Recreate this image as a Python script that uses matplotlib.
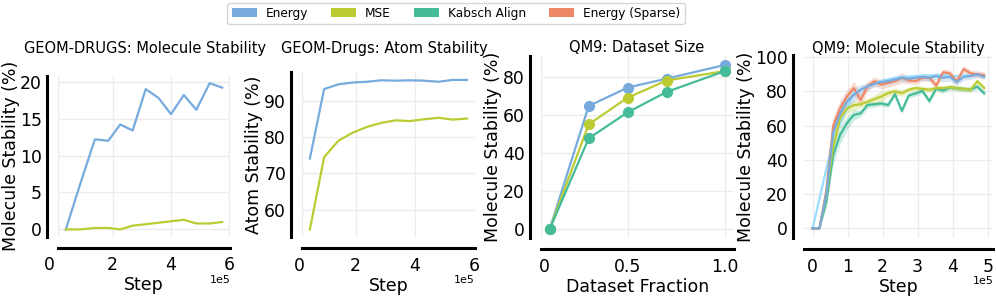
import numpy as np
import matplotlib
matplotlib.use("Agg")
import matplotlib.pyplot as plt
from matplotlib.patches import Patch
from matplotlib.transforms import ScaledTranslation

# --------- couleurs ---------
C_ENERGY = "#77AADD"
C_MSE = "#BBCC33"
C_KABSCH = "#44BB99"
C_SPARSE = "#EE8866"
C_CYAN = "#99DDFF"

# --------- GEOM-DRUGS : molecule stability ---------
drugs_mol_steps = [39000, 89000, 139000, 185000, 226000, 269000, 314000,
                   358000, 401000, 445000, 488000, 534000, 577000]
drugs_mol_energy = [0.0, 6.2, 12.2, 12.0, 14.2, 13.4, 19.0, 17.8, 15.6,
                    18.2, 16.2, 19.8, 19.2]
drugs_mol_mse = [0.0, 0.0, 0.2, 0.2, 0.0, 0.5, 0.7, 0.9, 1.1, 1.3, 0.8,
                 0.8, 1.0]

# --------- GEOM-Drugs : atom stability ---------
drugs_atom_steps = [46000, 94000, 142000, 190000, 238000, 286000, 334000,
                    382000, 430000, 478000, 526000, 575000]
drugs_atom_energy = [74.1, 93.2, 94.5, 95.0, 95.2, 95.6, 95.5, 95.6, 95.5,
                     95.2, 95.7, 95.7]
drugs_atom_mse = [54.6, 74.5, 79.0, 81.2, 82.8, 83.9, 84.6, 84.4, 84.9,
                  85.3, 84.8, 85.1]

# --------- QM9 : dataset size ---------
fractions = [0.1, 0.3, 0.5, 0.7, 1.0]
size_energy = [0.0, 64.6, 74.3, 79.0, 86.2]
size_mse = [0.0, 55.0, 69.0, 78.0, 83.0]
size_kabsch = [0.0, 47.6, 61.3, 72.0, 83.0]

# --------- QM9 : molecule stability ---------
qm9_steps = [0, 19600, 39200, 58800, 78400, 98000, 117600, 137200, 156800,
             176400, 196000, 215600, 235200, 254800, 274400, 294000, 313600,
             333200, 352800, 372400, 392000, 411600, 431200, 450800, 470400,
             490000]
qm9_energy = [0, 0, 20, 56, 67, 74, 78, 81, 83, 84.5, 85.5, 86, 87, 88,
              87.5, 88, 88.5, 88, 89, 88, 88.5, 85.5, 88.5, 89, 90, 88.5]
qm9_energy_sd = [0, 0, 3, 6, 6, 5, 4, 3, 2, 2, 2, 2, 2, 2, 2, 2, 2, 2, 2,
                 2.5, 2.5, 2, 2, 2, 1.5, 1.5]
qm9_mse = [0, 0, 20, 48, 64, 70, 72, 72.5, 74, 75.5, 77, 79, 80, 79, 81,
           82, 81.5, 81, 82, 82, 82.5, 82, 81.5, 81, 86, 82]
qm9_mse_sd = [0, 0, 3, 5, 4, 3, 3, 2, 2, 2.5, 3, 2, 2, 2, 1.5, 1.5, 1.5,
              1.5, 1.5, 1.5, 1.5, 1.5, 1.5, 1.5, 1.5, 1.5]
qm9_kabsch = [0, 0, 15.6, 42.9, 54.6, 61.4, 66.3, 67.2, 72.1, 72.5, 73.0,
              72.1, 78.4, 68.6, 77.6, 78.9, 80.3, 74.4, 81.8, 80.5, 82.4,
              81.8, 81.4, 81.2, 82.8, 78.9]
qm9_kabsch_sd = [0, 0, 3, 5, 5, 4, 3, 2, 2, 1.5, 1.5, 1.5, 1.5, 1.5, 1.5,
                 1.5, 1.5, 1.5, 1.5, 1.5, 1.5, 1.5, 1.5, 1.5, 1.5, 1.5]
qm9_sparse = [0, 0, 22, 60, 70, 77, 82, 75, 83, 86, 84, 85, 86, 88, 86.5,
              86, 88, 88, 83.5, 91.2, 90.6, 85.8, 93.1, 90.6, 90, 89.5]
qm9_sparse_sd = [0, 0, 3, 5, 5, 4, 4, 4, 3, 2.5, 2.5, 2.5, 2.5, 3, 2, 2, 2,
                 2, 2, 2, 2, 2, 2, 2, 2, 2]
qm9_cyan_steps = [0, 58800, 117600, 176400, 235200, 294000, 352800, 411600,
                  470400]
qm9_cyan = [0, 52, 79, 85, 88, 89, 89.5, 89, 90]

W, H = 996, 298

plt.rcParams['font.family'] = 'DejaVu Sans'
plt.rcParams['axes.linewidth'] = 2.2
plt.rcParams['xtick.labelsize'] = 12.4
plt.rcParams['ytick.labelsize'] = 12.4
plt.rcParams['axes.labelsize'] = 12.5

fig = plt.figure(figsize=(W / 100, H / 100), dpi=100)


def px_axes(left, right, top, bottom):
    # coordonnées pixels -> fraction de figure
    return fig.add_axes([left / W, 1 - bottom / H, (right - left) / W,
                         (bottom - top) / H])


def style(ax):
    for s in ['top', 'right']:
        ax.spines[s].set_visible(False)
    ax.spines['left'].set_position(('outward', 8))
    ax.spines['bottom'].set_position(('outward', 8))
    ax.grid(True, color='#ececec', linewidth=1.0)
    ax.set_axisbelow(True)
    ax.tick_params(length=0, pad=3.5)
    ax.tick_params(axis='x', pad=6)


def first_label_shift(ax, dx_px):
    lab = ax.xaxis.get_major_ticks()[0].label1
    lab.set_transform(lab.get_transform()
                      + ScaledTranslation(dx_px / 100, 0, fig.dpi_scale_trans))


def title(xc, text):
    fig.text(xc / W, 1 - 48 / H, text, ha='center', va='center',
             fontsize=10.5)


def offset_label(xr, yc):
    fig.text(xr / W, 1 - yc / H, '1e5', ha='right', va='center', fontsize=8)


lw = 1.6

# 1) GEOM-DRUGS molecule stability
ax1 = px_axes(58, 230, 75.8, 236.7)
style(ax1)
ax1.plot(drugs_mol_steps, drugs_mol_energy, color=C_ENERGY, lw=lw)
ax1.plot(drugs_mol_steps, drugs_mol_mse, color=C_MSE, lw=lw)
ax1.set_xlim(12100, 603900)
ax1.set_ylim(-0.99, 20.8)
ax1.set_yticks([0, 5, 10, 15, 20])
ax1.set_xticks([12100, 200000, 400000, 600000])
ax1.set_xticklabels(['0', '2', '4', '6'])
ax1.set_xlabel('Step', labelpad=1.5)
ax1.set_ylabel('Molecule Stability (%)', labelpad=0)
first_label_shift(ax1, -9)
offset_label(231, 280)
title(145, 'GEOM-DRUGS: Molecule Stability')

# 2) GEOM-Drugs atom stability
ax2 = px_axes(302, 475, 72.3, 237.2)
style(ax2)
ax2.plot(drugs_atom_steps, drugs_atom_energy, color=C_ENERGY, lw=lw)
ax2.plot(drugs_atom_steps, drugs_atom_mse, color=C_MSE, lw=lw)
ax2.set_xlim(19550, 601450)
ax2.set_ylim(52.5, 97.8)
ax2.set_yticks([60, 70, 80, 90])
ax2.set_xticks([19550, 200000, 400000, 600000])
ax2.set_xticklabels(['0', '2', '4', '6'])
ax2.set_xlabel('Step', labelpad=1.5)
ax2.set_ylabel('Atom Stability (%)', labelpad=0.5)
first_label_shift(ax2, -3)
offset_label(475, 280)
title(384, 'GEOM-Drugs: Atom Stability')

# 3) QM9 dataset size
ax3 = px_axes(541, 733.7, 56, 238.3)
style(ax3)
for ys, c in [(size_energy, C_ENERGY), (size_mse, C_MSE),
              (size_kabsch, C_KABSCH)]:
    ax3.plot(fractions, ys, color=c, lw=lw, marker='o', markersize=7)
ax3.set_xlim(0.055, 1.045)
ax3.set_ylim(-4.9, 90.9)
ax3.set_yticks([0, 20, 40, 60, 80])
ax3.set_xticks([0.055, 0.5, 1.0])
ax3.set_xticklabels(['0', '0.5', '1.0'])
ax3.set_xlabel('Dataset Fraction', labelpad=1.5)
ax3.set_ylabel('Molecule Stability (%)', labelpad=0.5)
first_label_shift(ax3, 3)
title(637, 'QM9: Dataset Size')

# 4) QM9 molecule stability
ax4 = px_axes(804, 992.8, 55, 238.3)
style(ax4)
ax4.plot(qm9_cyan_steps, qm9_cyan, color=C_CYAN, lw=lw)
series = [(qm9_kabsch, qm9_kabsch_sd, C_KABSCH),
          (qm9_mse, qm9_mse_sd, C_MSE),
          (qm9_sparse, qm9_sparse_sd, C_SPARSE),
          (qm9_energy, qm9_energy_sd, C_ENERGY)]
for ys, sd, c in series:
    ys = np.array(ys, dtype=float)
    sd = np.array(sd, dtype=float)
    ax4.fill_between(qm9_steps, ys - sd, ys + sd, color=c, alpha=0.28,
                     linewidth=0)
    ax4.plot(qm9_steps, ys, color=c, lw=lw)
ax4.set_xlim(-24500, 514500)
ax4.set_ylim(-5.8, 101.3)
ax4.set_yticks([0, 20, 40, 60, 80, 100])
ax4.set_xticks([0, 100000, 200000, 300000, 400000, 500000])
ax4.set_xticklabels(['0', '1', '2', '3', '4', '5'])
ax4.set_xlabel('Step', labelpad=1.5)
ax4.set_ylabel('Molecule Stability (%)', labelpad=0.5)
offset_label(994, 281)
title(898, 'QM9: Molecule Stability')

# légende commune
handles = [Patch(facecolor=C_ENERGY, label='Energy'),
           Patch(facecolor=C_MSE, label='MSE'),
           Patch(facecolor=C_KABSCH, label='Kabsch Align'),
           Patch(facecolor=C_SPARSE, label='Energy (Sparse)')]
fig.legend(handles=handles, loc='center', bbox_to_anchor=(456 / W, 1 - 13.5 / H),
           ncol=4, fontsize=8.7, frameon=True, edgecolor='#cccccc',
           handlelength=2.1, handleheight=0.8, handletextpad=0.72,
           columnspacing=1.9, borderpad=0.35)

fig.savefig('out.png', dpi=100)
